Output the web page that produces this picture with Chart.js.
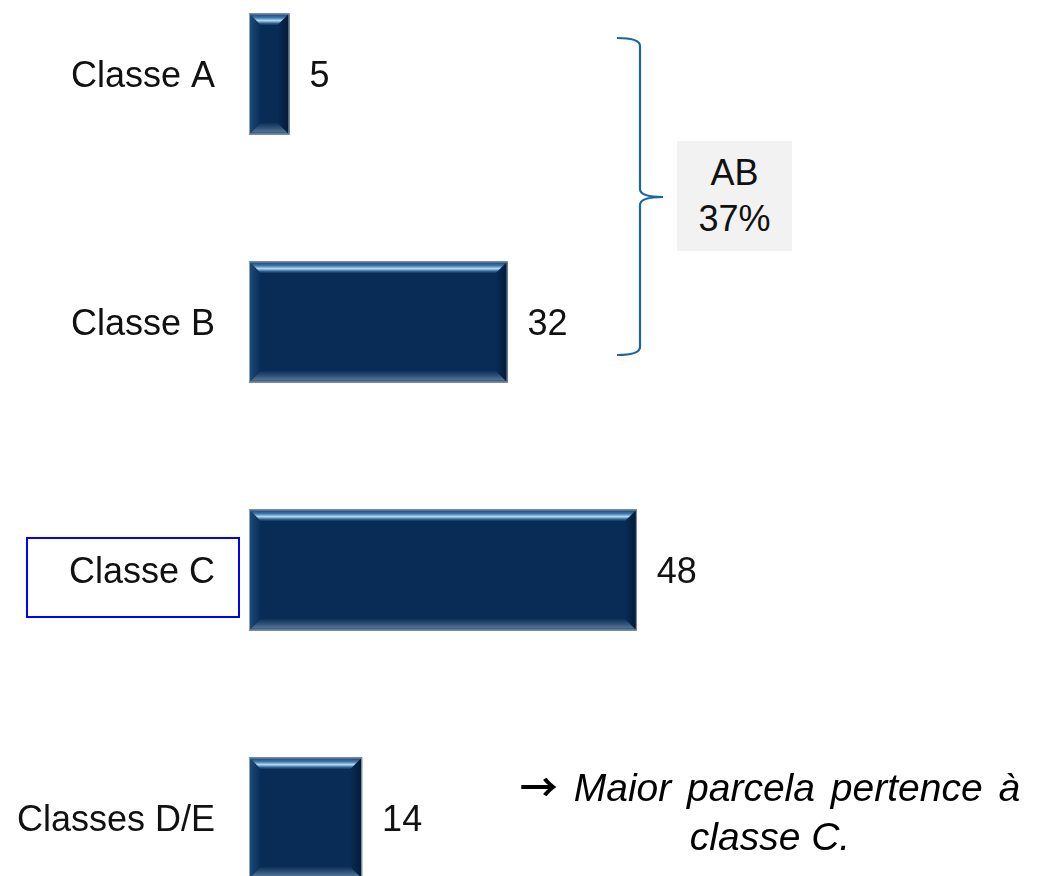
<!DOCTYPE html>
<html>
<head>
<meta charset="utf-8">
<script src="https://cdn.jsdelivr.net/npm/chart.js@4/dist/chart.umd.min.js"></script>
<style>
  html, body { margin:0; padding:0; background:#ffffff; width:1038px; height:876px; overflow:hidden; }
  body { position:relative; font-family:"Liberation Sans", Arial, sans-serif; }
  #wrap { position:absolute; left:0; top:-50px; width:1038px; height:992px; }
  #abBox { position:absolute; left:677px; top:141px; width:115px; height:110px; background:#f2f2f2;
           display:flex; align-items:center; justify-content:center; text-align:center;
           font-size:36px; line-height:46px; color:#111; }
  #cBox { position:absolute; left:26px; top:537px; width:214px; height:81px; box-sizing:border-box;
          border:2px solid #0000ff; }
  #note { position:absolute; left:500px; top:760px; width:540px; text-align:center; white-space:nowrap;
          font-style:italic; font-size:39px; line-height:49px; color:#000; }
  #note .l1 { word-spacing:5px; }
  #note .arr { font-family:"Noto Sans CJK JP", "DejaVu Sans", sans-serif; font-style:normal; font-size:38px;
               font-weight:700; display:inline-block; line-height:49px; }
  #brace { position:absolute; left:0; top:0; }
</style>
</head>
<body>
<div id="wrap"><canvas id="c"></canvas></div>
<svg id="brace" width="1038" height="876">
  <path d="M617,38 Q640,38 640,46 L640,189 Q640,197 663,197 Q640,197 640,205 L640,347 Q640,355 617,355"
        fill="none" stroke="#1b679c" stroke-width="2.2"/>
</svg>
<div id="cBox"></div>
<div id="abBox">AB<br>37%</div>
<div id="note"><span class="l1"><span class="arr">→</span> Maior parcela pertence à</span><br>classe C.</div>
<script>
const categories = ['Classe A', 'Classe B', 'Classe C', 'Classes D/E'];
const values = [5, 32, 48, 14];
const xMin = 0;
const xMax = 90;

const FONT = '36px "Liberation Sans", Arial, sans-serif';

const bevelPlugin = {
  id: 'bevel',
  afterDatasetsDraw(chart) {
    const ctx = chart.ctx;
    const meta = chart.getDatasetMeta(0);
    meta.data.forEach((el) => {
      const p = el.getProps(['x', 'y', 'base', 'height'], true);
      const x0 = Math.min(p.base, p.x), x1 = Math.max(p.base, p.x);
      const y0 = p.y - p.height / 2, y1 = p.y + p.height / 2;
      const b = 12;
      ctx.save();
      // top bevel
      let g = ctx.createLinearGradient(0, y0, 0, y0 + b);
      g.addColorStop(0, '#163c66');
      g.addColorStop(0.35, '#3f77a8');
      g.addColorStop(0.6, '#b0dcf8');
      g.addColorStop(0.82, '#2f5f8e');
      g.addColorStop(1, '#082c56');
      ctx.fillStyle = g;
      ctx.beginPath();
      ctx.moveTo(x0, y0); ctx.lineTo(x1, y0); ctx.lineTo(x1 - b, y0 + b); ctx.lineTo(x0 + b, y0 + b); ctx.closePath();
      ctx.fill();
      // bottom bevel
      g = ctx.createLinearGradient(0, y1 - b, 0, y1);
      g.addColorStop(0, '#082c56');
      g.addColorStop(0.45, '#2f5277');
      g.addColorStop(0.75, '#4d6f92');
      g.addColorStop(1, '#24466c');
      ctx.fillStyle = g;
      ctx.beginPath();
      ctx.moveTo(x0, y1); ctx.lineTo(x1, y1); ctx.lineTo(x1 - b, y1 - b); ctx.lineTo(x0 + b, y1 - b); ctx.closePath();
      ctx.fill();
      // left bevel
      g = ctx.createLinearGradient(x0, 0, x0 + b, 0);
      g.addColorStop(0, '#1f4d7c');
      g.addColorStop(1, '#082c56');
      ctx.fillStyle = g;
      ctx.beginPath();
      ctx.moveTo(x0, y0); ctx.lineTo(x0 + b, y0 + b); ctx.lineTo(x0 + b, y1 - b); ctx.lineTo(x0, y1); ctx.closePath();
      ctx.fill();
      // right bevel
      g = ctx.createLinearGradient(x1 - b, 0, x1, 0);
      g.addColorStop(0, '#082c56');
      g.addColorStop(1, '#041a36');
      ctx.fillStyle = g;
      ctx.beginPath();
      ctx.moveTo(x1, y0); ctx.lineTo(x1 - b, y0 + b); ctx.lineTo(x1 - b, y1 - b); ctx.lineTo(x1, y1); ctx.closePath();
      ctx.fill();
      // outline
      ctx.strokeStyle = 'rgba(170,185,200,0.8)';
      ctx.lineWidth = 1;
      ctx.strokeRect(x0 + 0.5, y0 + 0.5, x1 - x0 - 1, y1 - y0 - 1);
      ctx.restore();
    });
  },
  afterDraw(chart) {
    const ctx = chart.ctx;
    const meta = chart.getDatasetMeta(0);
    const yScale = chart.scales.y;
    ctx.save();
    ctx.font = FONT;
    ctx.fillStyle = '#111111';
    ctx.textBaseline = 'alphabetic';
    // category labels
    ctx.textAlign = 'right';
    chart.data.labels.forEach((lab, i) => {
      const yc = yScale.getPixelForValue(i);
      ctx.fillText(lab, chart.chartArea.left - 34, yc + 12.5);
    });
    // value labels
    ctx.textAlign = 'left';
    meta.data.forEach((el, i) => {
      const p = el.getProps(['x', 'y', 'base'], true);
      const xe = Math.max(p.x, p.base);
      ctx.fillText(String(chart.data.datasets[0].data[i]), xe + 20, p.y + 12.5);
    });
    ctx.restore();
  }
};

new Chart(document.getElementById('c'), {
  type: 'bar',
  data: {
    labels: categories,
    datasets: [{
      data: values,
      backgroundColor: '#082c56',
      borderWidth: 0,
      barPercentage: 0.488,
      categoryPercentage: 1
    }]
  },
  options: {
    indexAxis: 'y',
    responsive: true,
    maintainAspectRatio: false,
    animation: false,
    events: [],
    layout: { padding: { left: 249, right: 61.8, top: 0, bottom: 0 } },
    scales: {
      x: { display: false, min: xMin, max: xMax },
      y: { display: false }
    },
    plugins: { legend: { display: false }, tooltip: { enabled: false } }
  },
  plugins: [bevelPlugin]
});
</script>
</body>
</html>
